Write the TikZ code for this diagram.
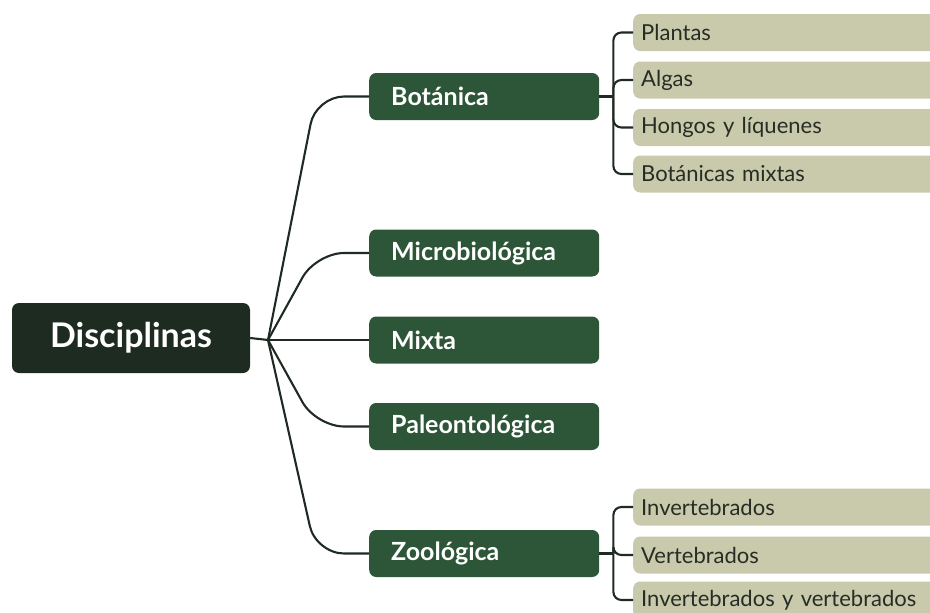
\documentclass[tikz,border=0pt]{standalone}
\usepackage{fontspec}
\setmainfont{Lato}
\definecolor{rootgreen}{HTML}{1E2B21}
\definecolor{midgreen}{HTML}{2D5537}
\definecolor{leafkhaki}{HTML}{C9C9AB}
\definecolor{linedark}{HTML}{1F2A22}
\definecolor{leaftext}{HTML}{262D25}
\tikzset{
  rootbox/.style={fill=rootgreen, text=white, rounded corners=7pt, minimum width=238pt,
    minimum height=70pt, font=\bfseries\fontsize{34}{40}\selectfont},
  midbox/.style={fill=midgreen, text=white, rounded corners=7pt, anchor=west,
    text width=186pt, inner xsep=22pt, align=left, minimum height=47pt,
    font=\bfseries\fontsize{25}{29}\selectfont},
  leafbox/.style={fill=leafkhaki, text=leaftext, rounded corners=7pt, anchor=west,
    text width=330pt, inner xsep=8pt, align=left, minimum height=37pt,
    font=\fontsize{22}{26}\selectfont},
  link/.style={draw=linedark, line width=2.1pt}
}
\begin{document}
\begin{tikzpicture}[x=1pt, y=-1pt]
        \useasboundingbox (0,0) rectangle (930,613);
        \clip (0,0) rectangle (930,613);

        % Root and the split point
        \node[rootbox] (disc) at (131,338) {Disciplinas};
        \coordinate (split) at (268,340);

        % Middle level
        \node[midbox] (bot) at (369,96.5) {Botánica};
        \node[midbox] (micro) at (369,253) {Microbiológica};
        \node[midbox] (mixta) at (369,340) {Mixta};
        \node[midbox] (paleo) at (369,426.5) {Paleontológica};
        \node[midbox] (zoo) at (369,553.5) {Zoológica};

        % Leaves of Botánica and Zoológica
        \node[leafbox] (plantas) at (633,32.5) {Plantas};
        \node[leafbox] (algas) at (633,80) {Algas};
        \node[leafbox] (hongos) at (633,127.5) {Hongos y líquenes};
        \node[leafbox] (botmix) at (633,174) {Botánicas mixtas};
        \node[leafbox] (inv) at (633,507) {Invertebrados};
        \node[leafbox] (vert) at (633,555) {Vertebrados};
        \node[leafbox] (invvert) at (633,600) {Invertebrados y vertebrados};

        % Connectors
        \draw[link] (disc.east) -- (split);
        \foreach \m in {bot, micro, mixta, paleo, zoo}
          \draw[link, rounded corners=28pt] (split) -- ([xshift=-53pt]\m.west) -- (\m.west);

        \coordinate (botfork) at ([xshift=14pt]bot.east);
        \coordinate (zoofork) at ([xshift=14pt]zoo.east);
        \draw[link] (bot.east) -- (botfork);
        \draw[link] (zoo.east) -- (zoofork);
        \foreach \l in {plantas, algas, hongos, botmix}
          \draw[link, rounded corners=8pt] (botfork) |- (\l.west);
        \foreach \l in {inv, vert, invvert}
          \draw[link, rounded corners=8pt] (zoofork) |- (\l.west);
      \end{tikzpicture}
\end{document}
